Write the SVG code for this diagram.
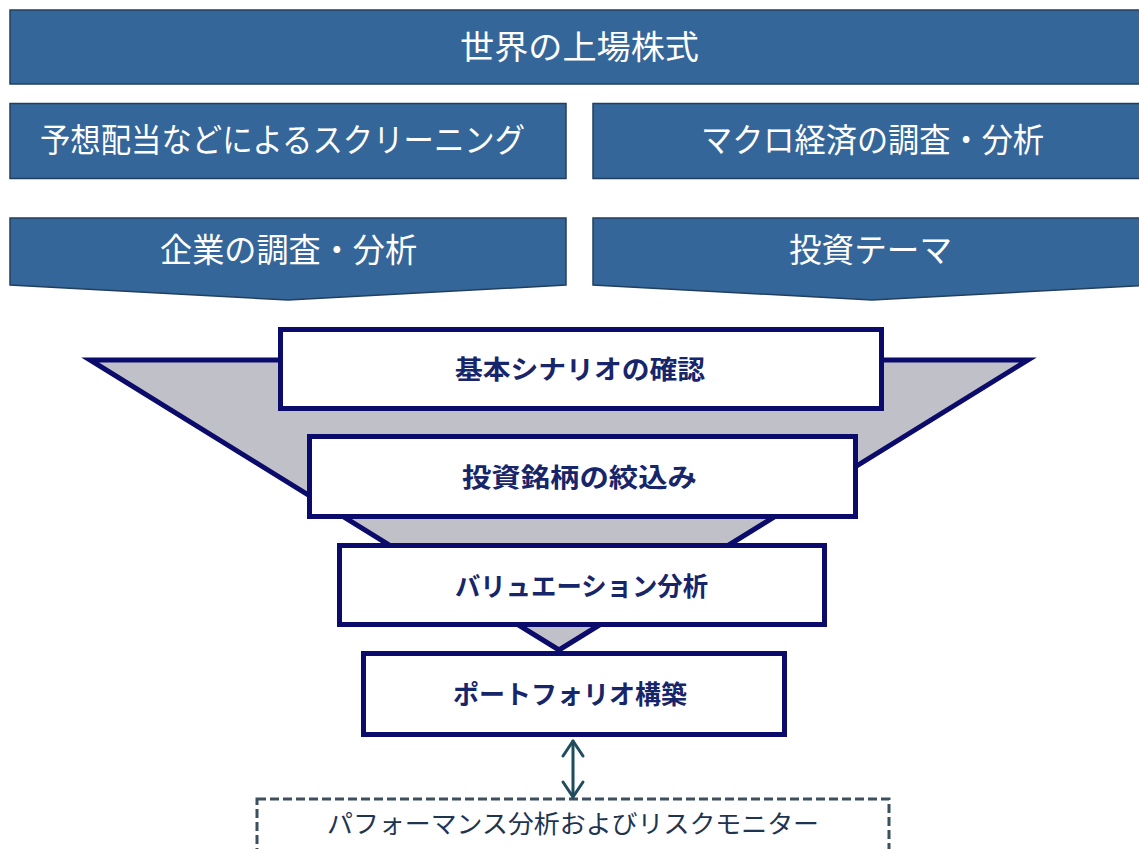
<svg xmlns="http://www.w3.org/2000/svg" width="1139" height="849" viewBox="0 0 1139 849">
<defs>
<style>
.bar{fill:#35669a;stroke:#223f5e;stroke-width:1.5}
.bt{fill:#ffffff;font-family:"Noto Sans CJK JP","Noto Sans CJK SC",sans-serif;font-size:33px;dominant-baseline:central;text-anchor:middle}
.box{fill:#ffffff;stroke:#0b0b6b;stroke-width:5}
.xt{fill:#17256a;font-family:"Noto Sans CJK JP","Noto Sans CJK SC",sans-serif;font-weight:bold;font-size:26px;dominant-baseline:central;text-anchor:middle}
.funnel{fill:#c0c0c9;stroke:#0b0b6b;stroke-width:5;stroke-linejoin:miter}
.dash{fill:#ffffff;stroke:#3b4f5e;stroke-width:3;stroke-dasharray:9 4}
.dt{fill:#1e3552;font-family:"Noto Sans CJK JP","Noto Sans CJK SC",sans-serif;font-size:25px;dominant-baseline:central;text-anchor:middle}
.arr{fill:none;stroke:#1f4d5e;stroke-width:3;stroke-linecap:round;stroke-linejoin:round}
</style>
</defs>
<rect width="1139" height="849" fill="#ffffff"/>
<g id="world">
<rect class="bar" x="10" y="10" width="1140" height="74"/>
<text class="bt" x="579.5" y="45" font-size="34" textLength="239" lengthAdjust="spacingAndGlyphs">世界の上場株式</text>
</g>
<g id="screening">
<rect class="bar" x="10" y="103.5" width="556" height="75"/>
<text class="bt" x="282.5" y="138" textLength="485" lengthAdjust="spacingAndGlyphs">予想配当などによるスクリーニング</text>
</g>
<g id="macro">
<rect class="bar" x="593" y="103.5" width="560" height="75"/>
<text class="bt" x="872.5" y="138" textLength="343" lengthAdjust="spacingAndGlyphs">マクロ経済の調査・分析</text>
</g>
<g id="company">
<path class="bar" d="M10,218 H566 V285 L288,300 L10,285 Z"/>
<text class="bt" x="288.5" y="248" textLength="257" lengthAdjust="spacingAndGlyphs">企業の調査・分析</text>
</g>
<g id="theme">
<path class="bar" d="M593,218 H1151 V285 L872,300 L593,285 Z"/>
<text class="bt" x="870.5" y="248" textLength="163" lengthAdjust="spacingAndGlyphs">投資テーマ</text>
</g>
<g id="funnel">
<polygon class="funnel" points="90,360 1028,360 559,650"/>
</g>
<g id="scenario">
<rect class="box" x="280.5" y="329.5" width="601" height="79"/>
<text class="xt" x="580" y="367" textLength="250" lengthAdjust="spacingAndGlyphs">基本シナリオの確認</text>
</g>
<g id="selection">
<rect class="box" x="309.5" y="436.5" width="546" height="80"/>
<text class="xt" x="579.5" y="475" textLength="235" lengthAdjust="spacingAndGlyphs">投資銘柄の絞込み</text>
</g>
<g id="valuation">
<rect class="box" x="339.5" y="545.5" width="485" height="79"/>
<text class="xt" x="581.5" y="584" textLength="253" lengthAdjust="spacingAndGlyphs">バリュエーション分析</text>
</g>
<g id="portfolio">
<rect class="box" x="363.5" y="653.5" width="421" height="81"/>
<text class="xt" x="570" y="692" textLength="234" lengthAdjust="spacingAndGlyphs">ポートフォリオ構築</text>
</g>
<g id="monitor">
<rect class="dash" x="257" y="799" width="632" height="60"/>
<text class="dt" x="573" y="822" textLength="492" lengthAdjust="spacingAndGlyphs">パフォーマンス分析およびリスクモニター</text>
</g>
<g id="connectors">
<line class="arr" x1="573" y1="741" x2="573" y2="797"/>
<polyline class="arr" points="563,756 573,741 583,756"/>
<polyline class="arr" points="563,782 573,797 583,782"/>
</g>
</svg>
